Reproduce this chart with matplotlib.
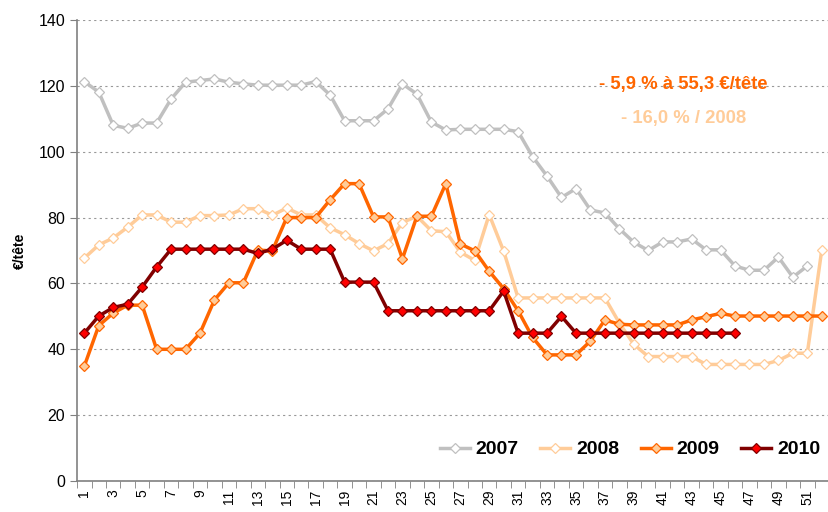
import matplotlib
matplotlib.use("Agg")
import matplotlib.pyplot as plt
from matplotlib.ticker import FixedLocator, NullFormatter

plt.rcParams['font.family'] = ['Liberation Sans', 'DejaVu Sans']

weeks = list(range(1, 53))

y2007 = [121.3, 118.1, 108.0, 107.1, 108.7, 108.7, 116.0, 121.1, 121.6, 122.1,
         121.1, 120.6, 120.2, 120.2, 120.2, 120.2, 121.3, 117.2, 109.4, 109.4,
         109.4, 113.0, 120.6, 117.5, 109.0, 106.6, 106.8, 106.8, 106.8, 106.8,
         106.1, 98.5, 92.6, 86.1, 88.8, 82.3, 81.4, 76.6, 72.5, 70.0,
         72.6, 72.6, 73.5, 70.2, 70.2, 65.3, 64.0, 64.0, 68.0, 61.9,
         65.3]
y2008 = [67.7, 71.7, 73.8, 77.1, 80.8, 80.8, 78.6, 78.6, 80.6, 80.6,
         80.8, 82.7, 82.7, 80.7, 82.9, 80.8, 80.8, 76.9, 74.8, 72.1,
         69.9, 72.1, 78.5, 80.4, 76.0, 75.7, 69.5, 67.0, 80.9, 69.8,
         55.6, 55.6, 55.6, 55.6, 55.6, 55.6, 55.6, 48.0, 41.5, 37.8,
         37.8, 37.8, 37.8, 35.4, 35.4, 35.4, 35.4, 35.4, 36.6, 38.8,
         38.8, 70.2]
y2009 = [34.9, 47.2, 51.0, 53.4, 53.4, 40.0, 40.0, 40.0, 44.9, 55.0,
         60.2, 60.2, 70.1, 69.9, 80.0, 80.0, 80.0, 85.4, 90.3, 90.3,
         80.2, 80.2, 67.5, 80.4, 80.4, 90.3, 72.0, 69.9, 63.7, 58.4,
         51.7, 43.6, 38.3, 38.3, 38.3, 42.5, 48.9, 47.6, 47.4, 47.4,
         47.4, 47.4, 48.9, 49.9, 50.9, 50.1, 50.1, 50.1, 50.1, 50.1,
         50.1, 50.1]
y2010 = [44.9, 50.1, 52.7, 53.7, 58.9, 65.0, 70.4, 70.4, 70.4, 70.4,
         70.4, 70.4, 69.1, 70.4, 73.1, 70.4, 70.4, 70.4, 60.4, 60.4,
         60.4, 51.7, 51.7, 51.7, 51.7, 51.7, 51.7, 51.7, 51.7, 57.7,
         44.9, 44.9, 44.9, 50.0, 44.9, 44.9, 44.9, 44.9, 44.9, 44.9,
         44.9, 44.9, 44.9, 44.9, 44.9, 44.9]

series = [
    ("2007", y2007, "#C0C0C0", "white", "#C0C0C0"),
    ("2008", y2008, "#FFCC99", "white", "#FFCC99"),
    ("2009", y2009, "#FF6600", "#FFCC99", "#FF6600"),
    ("2010", y2010, "#800000", "#FF0000", "#800000"),
]

fig = plt.figure(figsize=(8.29, 5.12), dpi=100)
ax = fig.add_axes([0.093, 0.0605, 0.907, 0.9005])

for name, vals, col, face, edge in series:
    ax.plot(weeks[:len(vals)], vals, color=col, lw=2.5, marker='D', ms=5.5,
            mfc=face, mec=edge, mew=0.9, label=name)

ax.set_xlim(0.5, 52.5)
ax.set_ylim(0, 140)
ax.set_yticks(range(0, 141, 20))
ax.yaxis.grid(True, color='#999999', ls=(0, (2, 3)), lw=0.8)
ax.set_axisbelow(True)

# labels on odd weeks, tick marks between categories
ax.xaxis.set_major_locator(FixedLocator(weeks[::2]))
ax.set_xticklabels([str(w) for w in weeks[::2]], rotation=90)
ax.xaxis.set_minor_locator(FixedLocator([w + 0.5 for w in range(0, 53)]))
ax.xaxis.set_minor_formatter(NullFormatter())
ax.tick_params(axis='x', which='major', length=0, labelsize=10, pad=6)
ax.tick_params(axis='x', which='minor', length=5, color='#808080')
ax.tick_params(axis='y', length=5, color='#808080', labelsize=11.5)

for s in ['top', 'right']:
    ax.spines[s].set_visible(False)
for s in ['left', 'bottom']:
    ax.spines[s].set_color('#808080')
    ax.spines[s].set_linewidth(1.2)

ax.set_ylabel("€/tête", fontsize=10, fontweight='bold', labelpad=8)

ax.text(0.806, 0.861, "- 5,9 % à 55,3 €/tête", transform=ax.transAxes,
        color='#FF6600', fontsize=13.3, fontweight='bold', ha='center', va='center')
ax.text(0.806, 0.787, "- 16,0 % / 2008", transform=ax.transAxes,
        color='#FFCC99', fontsize=13.3, fontweight='bold', ha='center', va='center')

leg = ax.legend(loc='lower right', bbox_to_anchor=(1.0, 0.03), ncol=4, frameon=False,
                prop={'weight': 'bold', 'size': 14}, handlelength=1.55,
                handletextpad=0.3, columnspacing=1.1, borderaxespad=0.05)

fig.savefig("out.png", dpi=100)
